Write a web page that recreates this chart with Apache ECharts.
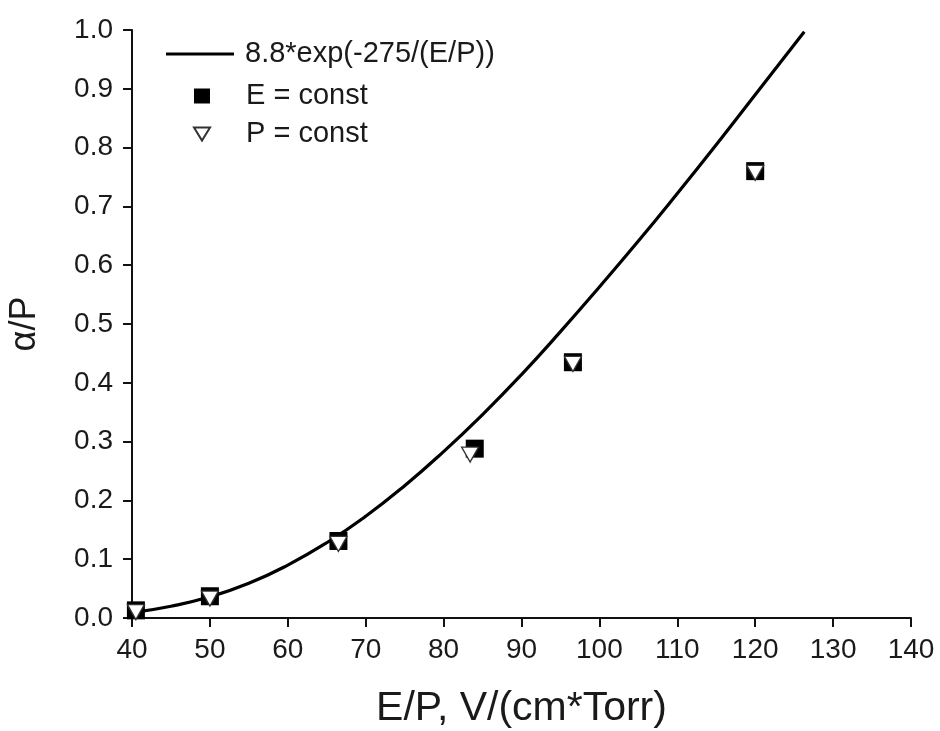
<!DOCTYPE html>
<html><head><meta charset="utf-8">
<script src="https://cdn.jsdelivr.net/npm/echarts@6/dist/echarts.min.js"></script>
<style>html,body{margin:0;padding:0;background:#fff}#c{width:940px;height:731px}</style>
</head><body><div id="c"></div>
<script>
// Fit curve: [E/P, alpha/P]
const fitX = [40, 45, 50, 55, 60, 65, 70, 75, 80, 85, 90, 95, 100, 105, 110, 115, 120, 125, 126.3];
const fitY = [0.009, 0.020, 0.036, 0.059, 0.090, 0.128, 0.173, 0.225, 0.283, 0.346, 0.414, 0.487, 0.563, 0.641, 0.722, 0.805, 0.890, 0.975, 0.997];
// E = const (filled squares)
const eX = [40.5, 50, 66.5, 84, 96.6, 120];
const eY = [0.013, 0.037, 0.131, 0.288, 0.435, 0.760];
// P = const (open down triangles)
const pX = [40.5, 50, 66.5, 83.4, 96.6, 120];
const pY = [0.010, 0.033, 0.126, 0.278, 0.432, 0.757];
const xTicks = [40, 140, 10];
const yTicks = [0, 1, 0.1];
const names = ['8.8*exp(-275/(E/P))', 'E = const', 'P = const'];

const zip = (a, b) => a.map((v, i) => [v, b[i]]);
const font = 'Liberation Sans, Arial, sans-serif';
const txt = '#1a1a1a';
const legendText = (pad) => ({ fontFamily: font, fontSize: 29, lineHeight: 30, color: txt, padding: [0, 0, 0, pad] });
const chart = echarts.init(document.getElementById('c'));
chart.setOption({
  backgroundColor: '#fff',
  animation: false,
  grid: { left: 132, right: 29, top: 30, bottom: 113, containLabel: false, outerBoundsMode: 'none' },
  legend: [
    { orient: 'vertical', left: 161, top: 34, itemWidth: 68, itemHeight: 3,
      textStyle: legendText(6),
      data: [{ name: names[0], icon: 'path://M0,0L68,0L68,3L0,3Z' }] },
    { orient: 'vertical', left: 188, top: 76, itemWidth: 16, itemHeight: 15, itemGap: 8,
      textStyle: legendText(31),
      data: [
        { name: names[1], icon: 'rect' },
        { name: names[2], icon: 'path://M0,0L16,0L8,13Z' }
      ] }
  ],
  xAxis: {
    type: 'value', min: xTicks[0], max: xTicks[1], interval: xTicks[2],
    name: 'E/P, V/(cm*Torr)', nameLocation: 'middle', nameGap: 70,
    nameTextStyle: { fontFamily: font, fontSize: 41, color: txt },
    axisLine: { lineStyle: { color: '#111', width: 2 } },
    axisTick: { show: true, length: 9, lineStyle: { color: '#111', width: 2 } },
    axisLabel: { fontFamily: font, fontSize: 28, color: txt, margin: 18 },
    splitLine: { show: false }
  },
  yAxis: {
    type: 'value', min: yTicks[0], max: yTicks[1], interval: yTicks[2],
    name: 'α/P', nameLocation: 'middle', nameGap: 89, nameRotate: 90,
    nameTextStyle: { fontFamily: font, fontSize: 36, color: txt },
    axisLine: { show: true, lineStyle: { color: '#111', width: 2 } },
    axisTick: { show: true, length: 9, lineStyle: { color: '#111', width: 2 } },
    axisLabel: { fontFamily: font, fontSize: 28, color: txt, margin: 19,
      formatter: v => v.toFixed(1) },
    splitLine: { show: false }
  },
  series: [
    { name: names[0], type: 'line', data: zip(fitX, fitY), smooth: true, symbol: 'none',
      lineStyle: { color: '#000', width: 3.2 }, itemStyle: { color: '#000' }, z: 1 },
    { name: names[1], type: 'scatter', data: zip(eX, eY), symbol: 'rect', symbolSize: 18,
      itemStyle: { color: '#000', opacity: 1 }, z: 2 },
    { name: names[2], type: 'scatter', data: zip(pX, pY), symbol: 'triangle', symbolRotate: 180,
      symbolSize: [17, 15],
      itemStyle: { color: '#fff', borderColor: '#333', borderWidth: 1.3, opacity: 1 }, z: 3 }
  ]
});
</script></body></html>
